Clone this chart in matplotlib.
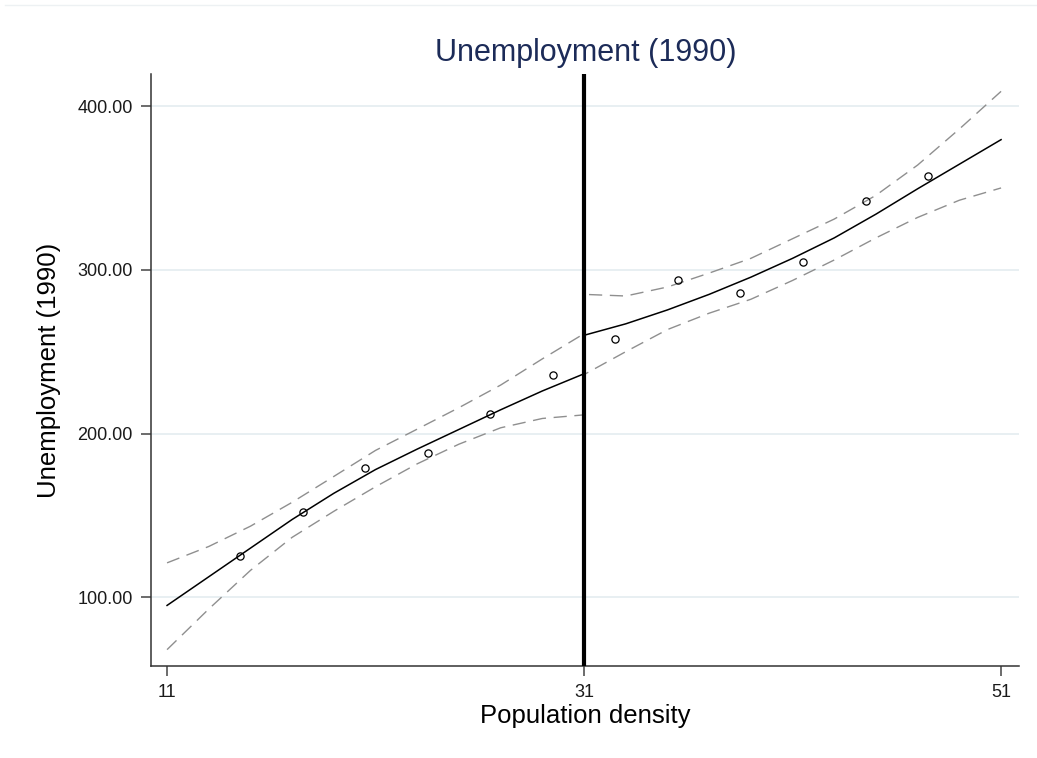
import numpy as np
import matplotlib
matplotlib.use("Agg")
import matplotlib.pyplot as plt
from matplotlib.lines import Line2D

plt.rcParams['font.family'] = ['Liberation Sans', 'DejaVu Sans']

# binned means
bin_x_left = [14.5, 17.5, 20.5, 23.5, 26.5, 29.5]
bin_y_left = [125, 152, 179, 188, 212, 236]
bin_x_right = [32.5, 35.5, 38.5, 41.5, 44.5, 47.5]
bin_y_right = [258, 294, 286, 305, 342, 357]

# fitted polynomial and confidence bands
grid_left = [11, 13, 15, 17, 19, 21, 23, 25, 27, 29, 31]
fit_left = [95, 112.5, 130, 147.5, 163.5, 178, 190.5, 202.5, 214.5, 226, 236.5]
upper_left = [121, 131, 143.4, 158, 173.8, 189.7, 202.7, 215.8, 229.6, 245.6, 261]
lower_left = [68, 92.8, 116.4, 136.6, 152.5, 167.5, 181.5, 193.5, 203.5, 209.2, 211.4]

grid_right = [31, 33, 35, 37, 39, 41, 43, 45, 47, 49, 51]
fit_right = [260, 267, 275.5, 285, 295.5, 307, 319.5, 334, 349.5, 364.5, 379.5]
upper_right = [285, 284, 289.5, 298, 307, 319, 331, 345.5, 364, 386, 409]
lower_right = [236, 250, 263.5, 273.5, 282, 293.5, 306, 319.5, 332, 342.5, 350]

cutoff = 31
x_ticks = [11, 31, 51]
y_ticks = [100, 200, 300, 400]
title = "Unemployment (1990)"
x_label = "Population density"
y_label = "Unemployment (1990)"

W, H = 1037, 758
fig = plt.figure(figsize=(W / 100, H / 100), dpi=100)
ax = fig.add_axes([151 / W, 1 - 666 / H, (1019 - 151) / W, (666 - 74) / H])

for yt in y_ticks:
    ax.axhline(yt, color='#e6eef1', lw=1.3, zorder=0)

band_color = '#8f8f8f'
ax.plot(grid_left + grid_right, upper_left + upper_right, color=band_color,
        lw=1.0, dashes=(9.5, 5.5), zorder=2)
ax.plot(grid_left + grid_right, lower_left + lower_right, color=band_color,
        lw=1.0, dashes=(9.5, 5.5), zorder=2)

ax.plot(grid_left, fit_left, color='black', lw=1.1, zorder=3)
ax.plot(grid_right, fit_right, color='black', lw=1.1, zorder=3)

ax.plot(bin_x_left + bin_x_right, bin_y_left + bin_y_right, 'o', ms=5.2,
        mfc='none', mec='black', mew=0.9, zorder=4)

ax.axvline(cutoff, color='black', lw=3, zorder=5)

ax.set_xlim(10.23, 51.86)
ax.set_ylim(58.0, 419.6)
ax.set_xticks(x_ticks)
ax.set_yticks(y_ticks)
ax.set_yticklabels([f"{v:.2f}" for v in y_ticks])

for side in ['top', 'right']:
    ax.spines[side].set_visible(False)
for side in ['left', 'bottom']:
    ax.spines[side].set_color('#333333')
    ax.spines[side].set_linewidth(1.1)
ax.tick_params(axis='both', length=7, width=1.1, color='#444444',
               labelsize=13, labelcolor='#1a1a1a', pad=6)

fig.text(586 / W, 1 - 61 / H, title, ha='center', va='baseline',
         fontsize=22, color='#1c2b58')
fig.text(585 / W, 1 - 723 / H, x_label, ha='center', va='baseline',
         fontsize=18.5, color='black')
fig.text(49.5 / W, 1 - 370 / H, y_label, ha='center', va='center',
         rotation=90, fontsize=18.5, color='black')

# faint outer region border
fig.add_artist(Line2D([5 / W, 1], [1 - 5 / H, 1 - 5 / H], color='#edf1f3', lw=1))

fig.savefig('out.png', dpi=100)
